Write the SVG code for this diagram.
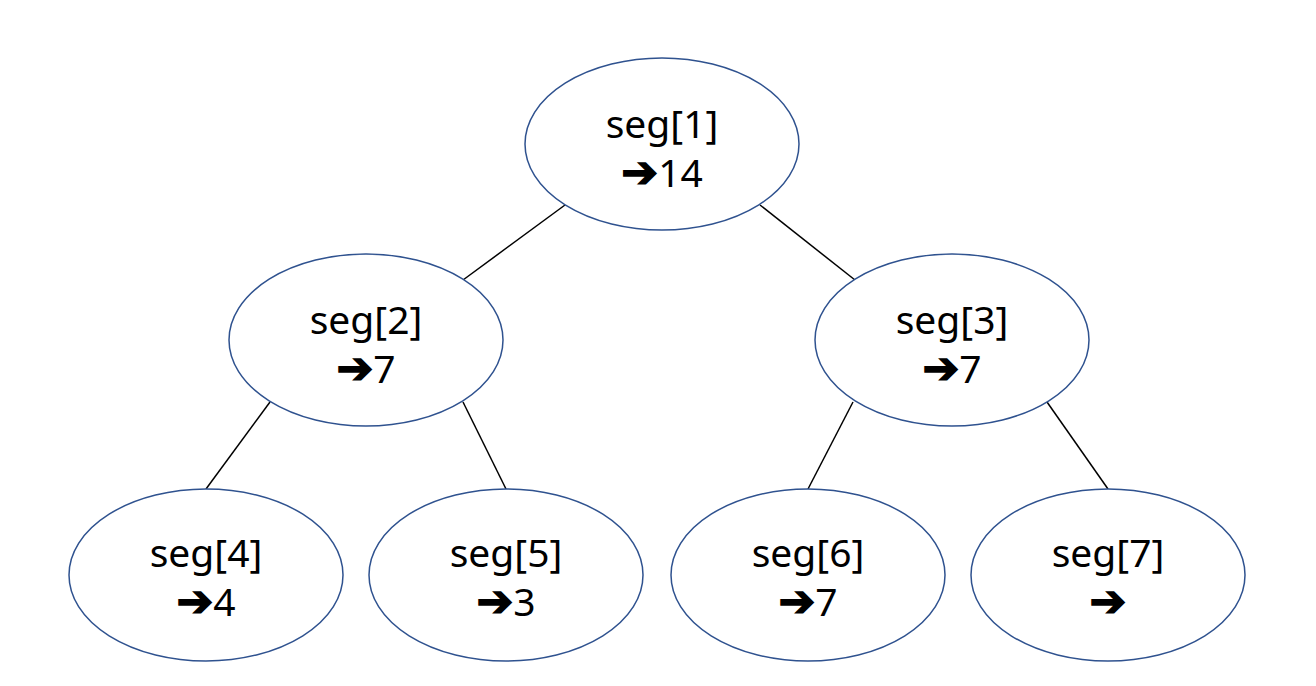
<svg xmlns="http://www.w3.org/2000/svg" width="1316" height="686" viewBox="0 0 1316 686">
<style>
.n{fill:#fff;stroke:#2F528F;stroke-width:1.5}
.t{font-family:"Noto Sans","Open Sans","DejaVu Sans",sans-serif;font-size:39px;fill:#000;text-anchor:middle}
.a{font-family:"DejaVu Sans",sans-serif;font-weight:bold;font-size:44px;stroke:#000;stroke-width:1.5}
.e{stroke:#000;stroke-width:1.5;fill:none}
</style>
<rect width="1316" height="686" fill="#fff"/>
<g id="connectors">
<line class="e" x1="565" y1="205" x2="463" y2="280"/>
<line class="e" x1="760" y1="205" x2="855" y2="280"/>
<line class="e" x1="270" y1="402" x2="206" y2="489"/>
<line class="e" x1="463" y1="402" x2="506" y2="489"/>
<line class="e" x1="853" y1="402" x2="808" y2="489"/>
<line class="e" x1="1047" y1="402" x2="1108" y2="489"/>
</g>
<g id="seg1"><ellipse class="n" cx="662" cy="144" rx="137" ry="86"/><text class="t" x="662" y="138">seg[1]</text><text class="t" x="662" y="187"><tspan class="a">➔</tspan>14</text></g>
<g id="seg2"><ellipse class="n" cx="366" cy="340" rx="137" ry="86"/><text class="t" x="366" y="334">seg[2]</text><text class="t" x="366" y="383"><tspan class="a">➔</tspan>7</text></g>
<g id="seg3"><ellipse class="n" cx="952" cy="340" rx="137" ry="86"/><text class="t" x="952" y="334">seg[3]</text><text class="t" x="952" y="383"><tspan class="a">➔</tspan>7</text></g>
<g id="seg4"><ellipse class="n" cx="206" cy="575" rx="137" ry="86"/><text class="t" x="206" y="567">seg[4]</text><text class="t" x="206" y="616"><tspan class="a">➔</tspan>4</text></g>
<g id="seg5"><ellipse class="n" cx="506" cy="575" rx="137" ry="86"/><text class="t" x="506" y="567">seg[5]</text><text class="t" x="506" y="616"><tspan class="a">➔</tspan>3</text></g>
<g id="seg6"><ellipse class="n" cx="808" cy="575" rx="137" ry="86"/><text class="t" x="808" y="567">seg[6]</text><text class="t" x="808" y="616"><tspan class="a">➔</tspan>7</text></g>
<g id="seg7"><ellipse class="n" cx="1108" cy="575" rx="137" ry="86"/><text class="t" x="1108" y="567">seg[7]</text><text class="t" x="1108" y="616"><tspan class="a">➔</tspan></text></g>
</svg>
